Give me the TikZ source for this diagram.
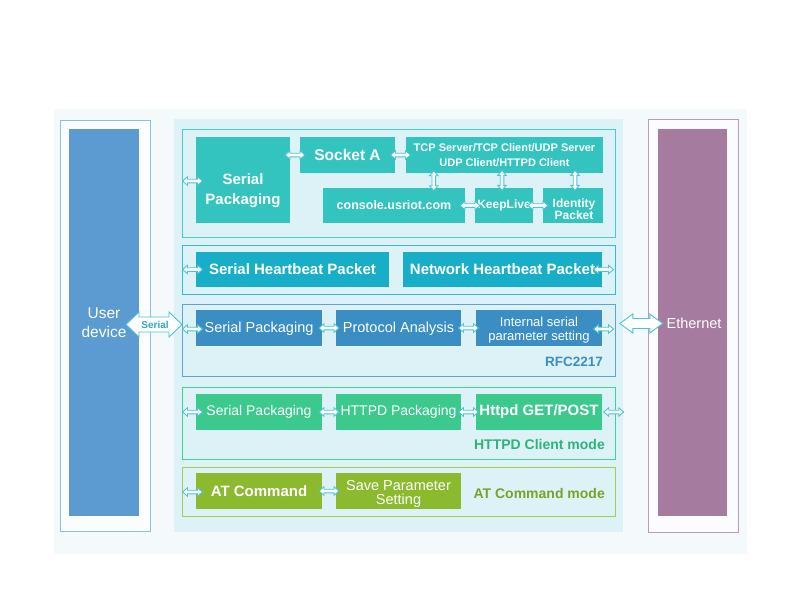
\documentclass[tikz,border=0pt]{standalone}
\usepackage{fontspec}
\setmainfont{Liberation Sans}
\usetikzlibrary{calc}
\definecolor{bgc}{HTML}{F4FAFB}
\definecolor{panel}{HTML}{DDF2F6}
\definecolor{userc}{HTML}{5B9BD2}
\definecolor{userb}{HTML}{8CBFE6}
\definecolor{ethc}{HTML}{A57C9F}
\definecolor{ethb}{HTML}{BB9BB7}
\definecolor{ca}{HTML}{33C4C0}
\definecolor{cab}{HTML}{45CFCA}
\definecolor{cb}{HTML}{18AEC8}
\definecolor{cbb}{HTML}{33BBD2}
\definecolor{cc}{HTML}{3A8EC3}
\definecolor{ccb}{HTML}{5EA3D3}
\definecolor{cd}{HTML}{3BC98D}
\definecolor{cdb}{HTML}{3FD495}
\definecolor{cdt}{HTML}{2DB47A}
\definecolor{ce}{HTML}{8BBA2F}
\definecolor{ceb}{HTML}{A3CC57}
\definecolor{cet}{HTML}{76A526}
\definecolor{arrc}{HTML}{4CC3D8}
\definecolor{sertc}{HTML}{2AA8C8}
\newcommand\myfs[2]{\fontsize{#1}{#2}\selectfont}
\tikzset{
  box/.style={rectangle, inner sep=0pt, text=white, align=center},
  frame/.style={rectangle, draw, line width=1pt, inner sep=0pt, fill=panel},
  arrowline/.style={draw=arrc, fill=white, line width=0.9pt, line join=miter},
  pics/dbl/.style n args={4}{code={
    \filldraw[arrowline] ({-#1/2},0) -- ({-#1/2+#4},{-#2}) -- ({-#1/2+#4},{-#3})
      -- ({#1/2-#4},{-#3}) -- ({#1/2-#4},{-#2}) -- ({#1/2},0) -- ({#1/2-#4},{#2})
      -- ({#1/2-#4},{#3}) -- ({-#1/2+#4},{#3}) -- ({-#1/2+#4},{#2}) -- cycle;
  }},
  pics/sml/.style={code={
    \filldraw[arrowline] (-10,0) -- (-5,-4.2) -- (-5,-1.8) -- (5,-1.8) -- (5,-4.2) -- (10,0)
      -- (5,4.2) -- (5,1.8) -- (-5,1.8) -- (-5,4.2) -- cycle;
  }},
}
\begin{document}
\begin{tikzpicture}[x=1pt,y=-1pt]
\useasboundingbox (0,0) rectangle (800,598);
\fill[white] (0,0) rectangle (800,598);
\fill[bgc] (54,109) rectangle (747,554);

% side columns
\node[rectangle, draw=userb, line width=1pt, fill=white!50!bgc, minimum width=90pt, minimum height=411pt] (uout) at (105,325.5) {};
\node[box, fill=userc, minimum width=70pt, minimum height=387pt] (uin) at (104,322.5) {};
\node[box, font=\myfs{15.5}{19}] (utxt) at (104,323) {User\\device};

\node[rectangle, draw=ethb, line width=1pt, fill=white!50!bgc, minimum width=90pt, minimum height=413pt] (eout) at (693,325.5) {};
\node[box, fill=ethc, minimum width=69pt, minimum height=387pt] (ein) at (692.5,322.5) {};
\node[box, font=\myfs{14.5}{17}] (etxt) at (694,323.5) {Ethernet};

% middle panel
\node[rectangle, fill=panel, inner sep=0pt, minimum width=449pt, minimum height=413pt] (panel) at (398.5,325.5) {};

% section 1
\node[frame, draw=cab, minimum width=433pt, minimum height=108pt] (sec1) at (398.5,183) {};
\node[box, fill=ca, minimum width=94pt, minimum height=86pt] (sp1) at (243,180) {};
\node[box, font=\bfseries\myfs{15}{20}] (sp1t) at ($(sp1.center)+(0,11)$) {Serial\\Packaging};
\node[box, fill=ca, minimum width=95pt, minimum height=36pt, font=\bfseries\myfs{15.5}{18}] (sockA) at (347.5,155) {Socket A};
\node[box, fill=ca, minimum width=197pt, minimum height=36pt, font=\bfseries\myfs{11}{15}] (tcp) at (504.5,155) {TCP Server/TCP Client/UDP Server\\UDP Client/HTTPD Client};
\node[box, fill=ca, minimum width=142pt, minimum height=35pt, font=\bfseries\myfs{12.5}{15}] (console) at (394,205.5) {console.usriot.com};
\node[box, fill=ca, minimum width=58pt, minimum height=35pt, font=\bfseries\myfs{12}{14}] (keep) at (504,205.5) {KeepLive};
\node[box, fill=ca, minimum width=60pt, minimum height=35pt] (ident) at (573,205.5) {};
\node[box, font=\bfseries\myfs{12}{12}] (identt) at ($(ident.center)+(1,3.5)$) {Identity\\Packet};

\pic at ($(sec1.west |- sp1.center)+(11,1)$) {sml};
\pic at ($(sp1.east |- sockA.center)!.5!(sockA.west)$) {sml};
\pic at ($(sockA.east)!.5!(tcp.west)$) {sml};
\pic[rotate=90] at ($(tcp.south west)+(28,7.5)$) {sml};
\pic[rotate=90] at ($(keep.north)+(-2,-7.5)$) {sml};
\pic[rotate=90] at ($(ident.north)+(2,-7.5)$) {sml};
\pic at ($(console.east)!.5!(keep.west)$) {sml};
\pic at ($(keep.east)!.5!(ident.west)$) {sml};

% section 2
\node[frame, draw=cbb, minimum width=433pt, minimum height=49pt] (sec2) at (398.5,269.5) {};
\node[box, fill=cb, minimum width=193pt, minimum height=35pt, font=\bfseries\myfs{15}{18}] (shb) at (292.5,269.5) {Serial Heartbeat Packet};
\node[box, fill=cb, minimum width=199pt, minimum height=35pt, font=\bfseries\myfs{15}{18}] (nhb) at (502.5,269.5) {Network Heartbeat Packet};
\pic at ($(sec2.west)+(11,0)$) {sml};
\pic at ($(sec2.east)+(-12,0)$) {sml};

% section 3
\node[frame, draw=ccb, minimum width=433pt, minimum height=72pt] (sec3) at (398.5,340) {};
\node[box, fill=cc, minimum width=126pt, minimum height=36pt, font=\myfs{14.5}{17}, text depth=1pt] (sp3) at (259,328) {Serial Packaging};
\node[box, fill=cc, minimum width=125pt, minimum height=36pt, font=\myfs{14.5}{17}, text depth=1pt] (pa) at (398.5,328) {Protocol Analysis};
\node[box, fill=cc, minimum width=126pt, minimum height=36pt] (isp) at (539,328) {};
\node[box, font=\myfs{13}{13.5}] (ispt) at ($(isp.center)+(0,2)$) {Internal serial\\parameter setting};
\node[anchor=east, inner sep=0pt, text=cc, font=\bfseries\myfs{13.5}{15}] (rfc) at (603,362) {RFC2217};
\pic at ($(sec3.west |- sp3.center)+(11,1)$) {sml};
\pic at ($(sp3.east)!.5!(pa.west)$) {sml};
\pic at ($(pa.east)!.5!(isp.west)$) {sml};
\pic at ($(sec3.east |- isp.center)+(-12,1)$) {sml};

% section 4
\node[frame, draw=cdb, minimum width=433pt, minimum height=72pt] (sec4) at (398.5,423) {};
\node[box, fill=cd, minimum width=126pt, minimum height=36pt, font=\myfs{14}{17}] (sp4) at (259,412) {Serial Packaging};
\node[box, fill=cd, minimum width=125pt, minimum height=36pt, font=\myfs{14}{17}] (hp) at (398.5,412) {HTTPD Packaging};
\node[box, fill=cd, minimum width=126pt, minimum height=36pt, font=\bfseries\myfs{15}{17}] (hg) at (539,412) {Httpd GET/POST};
\node[anchor=east, inner sep=0pt, text=cdt, font=\bfseries\myfs{14}{16}] (hcm) at (605,444) {HTTPD Client mode};
\pic at ($(sec4.west |- sp4.center)+(11,0)$) {sml};
\pic at ($(sp4.east)!.5!(hp.west)$) {sml};
\pic at ($(hp.east)!.5!(hg.west)$) {sml};
\pic at ($(hg.east)+(11.5,0)$) {sml};

% section 5
\node[frame, draw=ceb, minimum width=433pt, minimum height=49pt] (sec5) at (398.5,491.5) {};
\node[box, fill=ce, minimum width=126pt, minimum height=36pt, font=\bfseries\myfs{15}{17}] (atc) at (259,491) {AT Command};
\node[box, fill=ce, minimum width=125pt, minimum height=36pt] (spv) at (398.5,491) {};
\node[box, font=\myfs{14.5}{14}] (spvt) at ($(spv.center)+(0,2.5)$) {Save Parameter\\Setting};
\node[anchor=east, inner sep=0pt, text=cet, font=\bfseries\myfs{14}{16}] (atm) at (605,493) {AT Command mode};
\pic at ($(sec5.west |- atc.center)+(11,1)$) {sml};
\pic at ($(atc.east)!.5!(spv.west)$) {sml};

% big arrows
\pic at ($(sec3.west)+(-27.5,-15.5)$) {dbl={56}{12.5}{7.5}{13}};
\node[inner sep=0pt, text=sertc, font=\bfseries\myfs{10}{12}] (sertxt) at ($(sec3.west)+(-26.5,-15)$) {Serial};
\pic at ($(ein.west)+(-16.5,1)$) {dbl={43}{9.5}{5}{13}};
\end{tikzpicture}
\end{document}
